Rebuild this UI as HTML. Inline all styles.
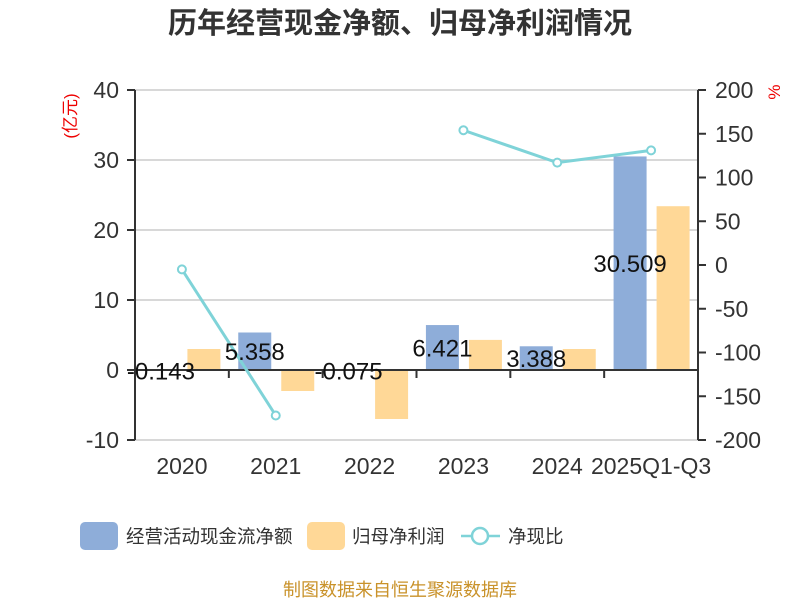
<!DOCTYPE html>
<html><head><meta charset="utf-8"><style>
body{margin:0;background:#fff;}
svg text{font-family:"Liberation Sans","Noto Sans CJK SC",sans-serif;}
</style></head><body>
<svg width="800" height="600" xmlns="http://www.w3.org/2000/svg">
<text x="400" y="33" text-anchor="middle" font-size="29" font-weight="bold" fill="#333">历年经营现金净额、归母净利润情况</text>
<g id="grid"></g><g id="bars"></g><g id="axes"></g><g id="line"></g><g id="labels"></g>
<text x="76" y="116" font-size="17" fill="#e00" text-anchor="middle" transform="rotate(-90 76 116)">(亿元)</text>
<text x="780" y="92" font-size="17" fill="#e00" text-anchor="middle" transform="rotate(-90 780 92)">%</text>
<g>
<rect x="80" y="522" width="38" height="28" rx="5" fill="#8eadd9"/>
<text x="126" y="543" font-size="18.5" fill="#333">经营活动现金流净额</text>
<rect x="307" y="522" width="38" height="28" rx="5" fill="#ffd897"/>
<text x="352" y="543" font-size="18.5" fill="#333">归母净利润</text>
<line x1="461" y1="536" x2="500" y2="536" stroke="#7fd3d8" stroke-width="2.5"/>
<circle cx="480" cy="536" r="8" fill="#fff" stroke="#7fd3d8" stroke-width="2.5"/>
<text x="508" y="543" font-size="18.5" fill="#333">净现比</text>
</g>
<text x="400" y="596" text-anchor="middle" font-size="18" fill="#c9922a">制图数据来自恒生聚源数据库</text>
</svg>
<script>
const categories=["2020","2021","2022","2023","2024","2025Q1-Q3"];
const cashFlow=[-0.143,5.358,-0.075,6.421,3.388,30.509];
const netProfit=[3.0,-3.0,-7.0,4.3,3.0,23.4];
const ratio=[-5,-172,null,154,117,131];
const leftTicks=[40,30,20,10,0,-10];
const rightTicks=[200,150,100,50,0,-50,-100,-150,-200];
const NS="http://www.w3.org/2000/svg";
const X0=135,X1=698,band=(X1-X0)/categories.length;
const yL=v=>370-v*7;
const yR=v=>265-v*0.875;
const cx=i=>X0+band*(i+0.5);
function mk(tag,attrs,parent,text){const e=document.createElementNS(NS,tag);for(const k in attrs)e.setAttribute(k,attrs[k]);if(text!==undefined)e.textContent=text;document.getElementById(parent).appendChild(e);return e;}
leftTicks.forEach(t=>{
  if(t!==0){const g=mk('line',{x1:X0,x2:X1,y1:yL(t),y2:yL(t),stroke:'#ccc','stroke-width':1.5},'grid');
  
  }
  const tk=mk('line',{x1:X0-8,x2:X0,y1:yL(t),y2:yL(t),stroke:'#333','stroke-width':2},'axes');
  
  
  const l=mk('text',{x:119,y:yL(t)+8,'text-anchor':'end','font-size':23,fill:'#333'},'axes',String(t));
  
  
});
rightTicks.forEach(t=>{
  const tk=mk('line',{x1:X1,x2:X1+8,y1:yR(t),y2:yR(t),stroke:'#333','stroke-width':2},'axes');
  
  
  const l=mk('text',{x:715,y:yR(t)+8,'font-size':23,fill:'#333'},'axes',String(t));
  
  
});
let a=mk('line',{x1:X0,x2:X0,y1:90,y2:440,stroke:'#333','stroke-width':2},'axes');


a=mk('line',{x1:X1,x2:X1,y1:90,y2:440,stroke:'#333','stroke-width':2},'axes');


a=mk('line',{x1:X0,x2:X1,y1:yL(0),y2:yL(0),stroke:'#333','stroke-width':2},'axes');


for(let i=1;i<categories.length;i++){const t=mk('line',{x1:X0+band*i,x2:X0+band*i,y1:370,y2:378,stroke:'#333','stroke-width':2},'axes');
  
  }
categories.forEach((c,i)=>{
  const l=mk('text',{x:cx(i),y:474,'text-anchor':'middle','font-size':23,fill:'#333'},'axes',c);
  
  
  const v=cashFlow[i],y0=yL(Math.max(v,0)),h=Math.abs(yL(v)-yL(0));
  const b=mk('rect',{x:cx(i)-37.5,y:y0,width:33,height:Math.max(h,1),fill:'#8eadd9'},'bars');
  
  
  const p=netProfit[i];
  const b2=mk('rect',{x:cx(i)+5.5,y:yL(Math.max(p,0)),width:33,height:Math.abs(yL(p)-yL(0)),fill:'#ffd897'},'bars');
  
  
  const lb=mk('text',{x:cx(i)-21,y:(yL(v)+yL(0))/2+9,'text-anchor':'middle','font-size':24,fill:'#111'},'labels',v.toFixed(3));
  
  
});
let seg=[];
const segs=[];
ratio.forEach((r,i)=>{if(r===null){if(seg.length)segs.push(seg);seg=[];}else seg.push([cx(i),yR(r)]);});
if(seg.length)segs.push(seg);
segs.forEach(s=>{if(s.length>1){const pl=mk('polyline',{points:s.map(p=>p.join(',')).join(' '),fill:'none',stroke:'#7fd3d8','stroke-width':3},'line');
  
  }});
ratio.forEach((r,i)=>{if(r===null)return;
  const c=mk('circle',{cx:cx(i),cy:yR(r),r:4,fill:'#fff',stroke:'#7fd3d8','stroke-width':2},'line');
  
  });
</script>
</body></html>
